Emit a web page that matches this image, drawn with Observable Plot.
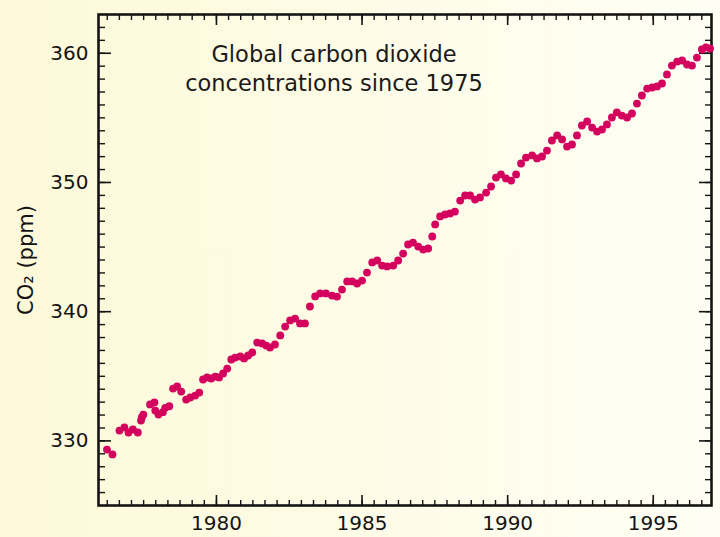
<!DOCTYPE html>
<html><head><meta charset="utf-8">
<script src="https://cdn.jsdelivr.net/npm/d3@7"></script>
<script src="https://cdn.jsdelivr.net/npm/@observablehq/plot@0.6"></script>
<style>
html,body{margin:0;padding:0;}
body{width:720px;height:537px;overflow:hidden;background:linear-gradient(to right,#fdf9d9,#fffef4);font-family:"DejaVu Sans",sans-serif;}
#wrap{position:relative;width:720px;height:537px;}
#title{position:absolute;left:134px;top:40px;width:400px;text-align:center;font-size:22.5px;line-height:29px;color:#1a1a1a;}
#wrap svg{position:absolute;left:0;top:0;}
</style></head>
<body><div id="wrap"><div id="title">Global carbon dioxide<br>concentrations since 1975</div></div>
<script>
const years = [1976.24,1976.43,1976.67,1976.84,1976.98,1977.13,1977.30,1977.41,1977.44,1977.49,1977.72,1977.87,1977.90,1978.01,1978.16,1978.24,1978.38,
1978.51,1978.65,1978.79,1978.96,1979.10,1979.27,1979.41,1979.54,1979.68,1979.82,1979.96,1980.09,1980.23,1980.37,1980.51,1980.64,1980.82,1980.95,
1981.09,1981.23,1981.40,1981.57,1981.71,1981.84,1982.01,1982.19,1982.36,1982.53,1982.70,1982.87,1983.04,1983.21,1983.39,1983.56,1983.76,1983.97,
1984.14,1984.31,1984.49,1984.66,1984.83,1985.00,1985.17,1985.35,1985.52,1985.69,1985.86,1986.07,1986.24,1986.41,1986.58,1986.75,1986.93,1987.10,
1987.27,1987.41,1987.51,1987.68,1987.85,1988.02,1988.19,1988.37,1988.54,1988.71,1988.88,1989.05,1989.26,1989.43,1989.60,1989.77,1989.94,1990.12,
1990.29,1990.46,1990.63,1990.84,1991.01,1991.18,1991.35,1991.52,1991.70,1991.87,1992.04,1992.21,1992.38,1992.55,1992.73,1992.90,1993.07,1993.24,
1993.41,1993.58,1993.75,1993.92,1994.10,1994.27,1994.44,1994.61,1994.79,1994.96,1995.13,1995.30,1995.47,1995.64,1995.82,1995.99,1996.16,1996.33,
1996.50,1996.67,1996.81,1996.95];
const co2 = [329.33,328.95,330.80,331.04,330.65,330.88,330.65,331.58,331.83,332.04,332.82,332.97,332.35,332.04,332.22,332.56,332.68,
334.05,334.21,333.82,333.20,333.36,333.51,333.74,334.75,334.91,334.83,334.98,334.91,335.22,335.60,336.30,336.45,336.53,336.38,
336.61,336.84,337.61,337.54,337.38,337.23,337.46,338.16,338.85,339.32,339.47,339.09,339.09,340.40,341.18,341.41,341.41,341.25,
341.17,341.71,342.34,342.34,342.18,342.41,343.03,343.81,343.96,343.57,343.50,343.57,343.96,344.50,345.20,345.35,345.04,344.81,
344.89,345.82,346.75,347.37,347.52,347.60,347.75,348.60,348.99,348.99,348.68,348.84,349.22,349.69,350.38,350.62,350.31,350.15,
350.62,351.47,351.93,352.09,351.86,352.01,352.47,353.25,353.64,353.33,352.78,352.94,353.64,354.41,354.72,354.25,353.94,354.10,
354.49,355.03,355.42,355.18,355.03,355.34,356.11,356.73,357.27,357.35,357.43,357.66,358.36,359.05,359.36,359.44,359.13,359.05,
359.67,360.29,360.45,360.37];
const xLabels = [1980, 1985, 1990, 1995];
const yLabels = [330, 340, 350, 360];

const data = years.map((t, i) => ({t, v: co2[i]}));
const xMinor = d3.range(-9, 41).map(k => 1980 + k * 5 / 12).filter(d => d > 1976 && d < 1997);
const yMinor = d3.range(326, 363);
const ink = "#141414";

const chart = Plot.plot({
  width: 720, height: 537,
  marginLeft: 98, marginRight: 9, marginTop: 14, marginBottom: 32,
  style: {background: "transparent", fontFamily: "DejaVu Sans, sans-serif", color: ink},
  x: {domain: [1975.95, 1997.0]},
  y: {domain: [325, 363]},
  marks: [
    Plot.axisX({anchor: "bottom", ticks: xMinor, tickSize: -5, fill: "none", strokeWidth: 1.4, label: null}),
    Plot.axisX({anchor: "bottom", ticks: xLabels, tickSize: -10, fill: "none", strokeWidth: 1.6, label: null}),
    Plot.axisX({anchor: "top", ticks: xMinor, tickSize: -5, fill: "none", strokeWidth: 1.4, label: null}),
    Plot.axisX({anchor: "top", ticks: xLabels, tickSize: -10, fill: "none", strokeWidth: 1.6, label: null}),
    Plot.axisY({anchor: "left", ticks: yMinor, tickSize: -7, fill: "none", strokeWidth: 1.4, label: null}),
    Plot.axisY({anchor: "left", ticks: yLabels, tickSize: -13, fill: "none", strokeWidth: 1.6, label: null}),
    Plot.axisY({anchor: "right", ticks: yMinor, tickSize: -7, fill: "none", strokeWidth: 1.4, label: null}),
    Plot.axisY({anchor: "right", ticks: yLabels, tickSize: -13, fill: "none", strokeWidth: 1.6, label: null}),
    Plot.axisX({anchor: "bottom", ticks: xLabels, tickSize: 0, tickPadding: 10, tickFormat: d => String(d), fontSize: 20, label: null}),
    Plot.axisY({anchor: "left", ticks: yLabels, tickSize: 0, tickPadding: 10, tickFormat: d => String(d), fontSize: 20, label: null}),
    Plot.frame({stroke: ink, strokeWidth: 2.6}),
    Plot.dot(data, {x: "t", y: "v", r: 3.9, fill: "#d4005d", stroke: null}),
    Plot.text(["CO₂ (ppm)"], {frameAnchor: "left", textAnchor: "middle", rotate: -90, dx: -72, fontSize: 21, fill: ink})
  ]
});
document.getElementById("wrap").prepend(chart);
</script>
</body></html>
